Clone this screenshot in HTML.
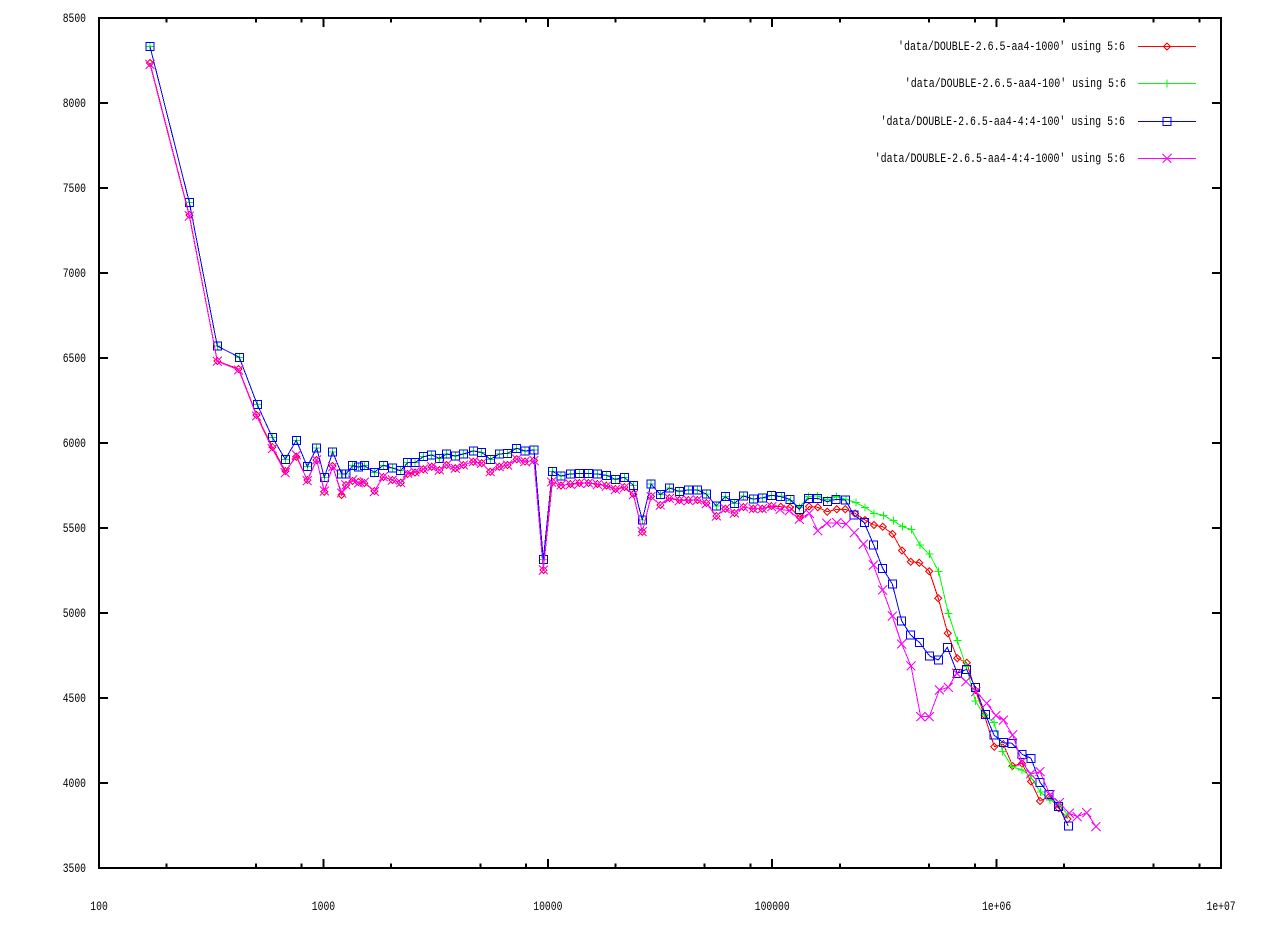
<!DOCTYPE html>
<html>
<head>
<meta charset="utf-8">
<style>
html,body{margin:0;padding:0;background:#fff;}
svg{display:block;}
text{font-family:"Liberation Mono",monospace;font-size:13px;fill:#000;}
</style>
</head>
<body>
<svg width="1272" height="944" viewBox="0 0 1272 944" xmlns="http://www.w3.org/2000/svg">
<defs>
<marker id="mD" markerUnits="userSpaceOnUse" markerWidth="12" markerHeight="12" refX="6" refY="6" viewBox="0 0 12 12" overflow="visible"><path d="M6,2.5 L9.5,6 L6,9.5 L2.5,6 Z" fill="none" stroke="#ff0000" stroke-width="1" shape-rendering="crispEdges"/></marker>
<marker id="mP" markerUnits="userSpaceOnUse" markerWidth="12" markerHeight="12" refX="6" refY="6" viewBox="0 0 12 12" overflow="visible"><path d="M2,6 H10 M6,2 V10" fill="none" stroke="#00ff00" stroke-width="1" shape-rendering="crispEdges"/></marker>
<marker id="mS" markerUnits="userSpaceOnUse" markerWidth="12" markerHeight="12" refX="6" refY="6" viewBox="0 0 12 12" overflow="visible"><path d="M2,2 H10 V10 H2 Z" fill="none" stroke="#0000ff" stroke-width="1" shape-rendering="crispEdges"/></marker>
<marker id="mX" markerUnits="userSpaceOnUse" markerWidth="12" markerHeight="12" refX="6" refY="6" viewBox="0 0 12 12" overflow="visible"><path d="M1.5,1.5 L10.5,10.5 M10.5,1.5 L1.5,10.5" fill="none" stroke="#ff00ff" stroke-width="1" shape-rendering="crispEdges"/></marker>
</defs>

<rect x="99" y="18" width="1122" height="850" fill="none" stroke="#000" stroke-width="2" shape-rendering="crispEdges"/>

<g stroke="#000" stroke-width="2" shape-rendering="crispEdges">
<path d="M99,18H108M99,103H108M99,188H108M99,273H108M99,358H108M99,443H108M99,528H108M99,613H108M99,698H108M99,783H108M99,868H108"/>
<path d="M1221,18H1212M1221,103H1212M1221,188H1212M1221,273H1212M1221,358H1212M1221,443H1212M1221,528H1212M1221,613H1212M1221,698H1212M1221,783H1212M1221,868H1212"/>
<path d="M99,868V859M323.4,868V859M547.8,868V859M772.2,868V859M996.6,868V859M1221,868V859"/>
<path d="M99,18V27M323.4,18V27M547.8,18V27M772.2,18V27M996.6,18V27M1221,18V27"/>
<path d="M166.6,868V863.5M255.9,868V863.5M301.7,868V863.5M391,868V863.5M480.3,868V863.5M526.1,868V863.5M615.4,868V863.5M704.7,868V863.5M750.5,868V863.5M839.8,868V863.5M929.1,868V863.5M974.9,868V863.5M1064.2,868V863.5M1153.5,868V863.5M1199.3,868V863.5"/>
<path d="M166.6,18V22.5M255.9,18V22.5M301.7,18V22.5M391,18V22.5M480.3,18V22.5M526.1,18V22.5M615.4,18V22.5M704.7,18V22.5M750.5,18V22.5M839.8,18V22.5M929.1,18V22.5M974.9,18V22.5M1064.2,18V22.5M1153.5,18V22.5M1199.3,18V22.5"/>
</g>

<g>
<text x="62.7" y="22" textLength="23.3" lengthAdjust="spacingAndGlyphs">8500</text>
<text x="62.7" y="107" textLength="23.3" lengthAdjust="spacingAndGlyphs">8000</text>
<text x="62.7" y="192" textLength="23.3" lengthAdjust="spacingAndGlyphs">7500</text>
<text x="62.7" y="277" textLength="23.3" lengthAdjust="spacingAndGlyphs">7000</text>
<text x="62.7" y="362" textLength="23.3" lengthAdjust="spacingAndGlyphs">6500</text>
<text x="62.7" y="447" textLength="23.3" lengthAdjust="spacingAndGlyphs">6000</text>
<text x="62.7" y="532" textLength="23.3" lengthAdjust="spacingAndGlyphs">5500</text>
<text x="62.7" y="617" textLength="23.3" lengthAdjust="spacingAndGlyphs">5000</text>
<text x="62.7" y="702" textLength="23.3" lengthAdjust="spacingAndGlyphs">4500</text>
<text x="62.7" y="787" textLength="23.3" lengthAdjust="spacingAndGlyphs">4000</text>
<text x="62.7" y="872" textLength="23.3" lengthAdjust="spacingAndGlyphs">3500</text>
</g>

<g>
<text x="90.3" y="910" textLength="17.5" lengthAdjust="spacingAndGlyphs">100</text>
<text x="311.8" y="910" textLength="23.3" lengthAdjust="spacingAndGlyphs">1000</text>
<text x="533.3" y="910" textLength="29.1" lengthAdjust="spacingAndGlyphs">10000</text>
<text x="754.8" y="910" textLength="34.9" lengthAdjust="spacingAndGlyphs">100000</text>
<text x="982.1" y="910" textLength="29.1" lengthAdjust="spacingAndGlyphs">1e+06</text>
<text x="1206.5" y="910" textLength="29.1" lengthAdjust="spacingAndGlyphs">1e+07</text>
</g>

<g fill="none" stroke-width="1" shape-rendering="crispEdges">
<polyline stroke="#ff0000" marker-start="url(#mD)" marker-mid="url(#mD)" marker-end="url(#mD)" points="150,63 189.3,215 217.3,361 238.7,369 256.7,415 272.3,447 285.3,471 296.3,456.7 307.3,480 316.7,460 324.3,491.7 332.7,466 341.7,495 346,485 352.7,481 358.5,482 364.3,483 374.3,491 383.3,477 392.3,480 400.7,482.7 407.7,474 415,472.7 423.3,469.3 431.7,466.7 439.3,470 446.7,465 455.3,468.3 463.3,465 473.3,461.7 481.7,463.3 490.3,471.7 499.3,466.7 507.7,465 516.7,459.3 525,461.7 534,460.7 543.3,570 552.3,482 561,485.5 570.3,484 579.3,483 588.3,483 597.3,484 606.3,485.5 615.3,489 624.3,487 633.3,494 642.3,531.7 651,496.7 660.3,505 669.3,498 679.3,500 688.3,500 697.3,500 706.3,503 716.3,516 725.3,508.7 734.3,513 743.3,507 753.3,508.7 762.3,508.7 771.3,506 780.7,506.7 790,507.3 800,517.3 809,506.7 817.7,507.3 827.3,511.7 836.7,509.3 845.3,509.3 855,513.3 865,520 874,525 882.7,526.7 892.7,534 902,550.7 910.7,561.7 919.3,562.7 929.3,571.3 938.3,598.3 947.7,633.3 957.3,658.3 966.7,662.7 975.3,690 984.3,715 994.3,746.7 1003.3,744 1012.7,766 1022,763.3 1031,781.7 1040,801 1049.3,796.7 1058.7,808.3 1067.7,819"/>

<polyline stroke="#00ff00" marker-start="url(#mP)" marker-mid="url(#mP)" marker-end="url(#mP)" points="150,46.5 189.3,202.3 217.3,346 239.3,357.3 257.3,404.7 272.3,437.3 285.3,459.3 296.3,440.3 307.3,466.7 316.7,448 324.3,477.3 332.7,452 341.7,474 346,474 352.7,465.7 358.5,467 364.3,465.7 374.3,472.3 383.3,465.3 392.3,468 400.7,470.7 407.7,462.7 415,462.7 423.3,456.7 431.7,455 439.3,458.3 446.7,454 455.3,456 463.3,454 473.3,451 481.7,452.3 490.3,459.3 499.3,454 507.7,453.3 516.7,448.3 525,451 534,450 543.3,559.3 552.3,471.3 561,476 570.3,474 579.3,473.3 588.3,473.3 597.3,474 606.3,475.3 615.3,479.3 624.3,477.3 633.3,485.3 642.3,520 651,484 660.3,494.7 669.3,488 679.3,491.3 688.3,490 697.3,490 706.3,494 716.3,506 725.3,496.7 734.3,503.3 743.3,496 753.3,499 762.3,498 771.3,495.3 781.7,496 790.7,500.7 799.3,507.3 808.3,496.7 817.3,496 827.3,500 836.7,496.7 846,499.3 856,502.7 865,507.3 874,513.3 883.3,515.3 893.3,520.7 902.3,526.7 911.3,529.3 920,545 929.3,554 938.7,571.7 948.3,613.3 957.3,640.7 966.3,666.7 975.3,701 984.3,715 994,722.7 1002.7,751.7 1012,766.7 1022,770 1030.3,776 1040.3,792 1050,800 1059.3,804 1067.7,815"/>

<polyline stroke="#0000ff" marker-start="url(#mS)" marker-mid="url(#mS)" marker-end="url(#mS)" points="150,46.5 189.3,202.3 217.3,346 239.3,357.3 257.3,404.7 272.3,437.3 285.3,459.3 296.3,440.3 307.3,466.7 316.7,448 324.3,477.3 332.7,452 341.7,474 346,474 352.7,465.7 358.5,467 364.3,465.7 374.3,472.3 383.3,465.3 392.3,468 400.7,470.7 407.7,462.7 415,462.7 423.3,456.7 431.7,455 439.3,458.3 446.7,454 455.3,456 463.3,454 473.3,451 481.7,452.3 490.3,459.3 499.3,454 507.7,453.3 516.7,448.3 525,451 534,450 543.3,559.3 552.3,471.3 561,476 570.3,474 579.3,473.3 588.3,473.3 597.3,474 606.3,475.3 615.3,479.3 624.3,477.3 633.3,485.3 642.3,520 651,484 660.3,494.7 669.3,488 679.3,491.3 688.3,490 697.3,490 706.3,494 716.3,506 725.3,496.7 734.3,503.3 743.3,496 753.3,499 762.3,498 771.3,495.3 780.7,496.7 790,499.3 799.3,509.3 808.3,498.3 817.3,498.3 827.3,501.7 836,499.3 845.3,500 854,515 864.3,522.7 873.7,545 882.7,568.3 892.3,584 901.7,621 910.7,635 919.3,642.3 929.7,656 938.3,660 947.3,647.3 957.3,673.3 966.7,669.3 975.3,687.3 985.3,714.3 994,735 1003.3,742.7 1012,743.3 1022,754.3 1031,758.3 1040,782.3 1049,794.3 1058.7,806.7 1068.3,826"/>

<polyline stroke="#ff00ff" marker-start="url(#mX)" marker-mid="url(#mX)" marker-end="url(#mX)" points="150,64.3 189.3,216 217.3,361.3 238.7,370 256.7,416 272.3,448.7 285.3,472.7 296.3,455 307.3,480.7 316.7,460 324.3,491 332.7,466.7 341.7,493 346,485 352.7,480 358.5,483 364.3,482 374.3,491.5 383.3,476.7 392.3,480 400.7,482.7 407.7,473 415,472 423.3,469.3 431.7,466.7 439.3,470 446.7,465 455.3,468.3 463.3,465 473.3,461.7 481.7,463.3 490.3,471.7 499.3,466.7 507.7,465 516.7,459.3 525,461.7 534,460.7 543.3,570 551.7,482 561,485 570.3,484.5 579.3,483.5 588.3,483 597.3,484.5 606.3,486 615.3,489.5 624.3,487.5 633.3,494.5 642.3,531.7 651,496.7 660.3,505 669.3,498.5 679.3,500.5 688.3,500.5 697.3,500 706.3,503.5 716.3,516 725.3,508.7 734.3,513 743.3,507 753.3,508.7 762.3,508.7 771.7,506.7 780,509.3 789.3,510.7 799.3,519.3 809.3,513.3 817.7,530.7 826.7,523.3 836.7,522.7 846,524 854.3,532.7 863.3,544 873.3,565 882.7,590 892.3,616 901.7,644 911,666 920.7,716.7 929.3,716.7 939.3,690 948.3,687.3 956.7,673.3 966,681.7 976,691.7 986.7,703.3 996,715.7 1003.3,720 1012.7,735 1021.7,761.7 1030.7,774 1040,771.7 1050,795 1059.3,802.7 1069.3,813.3 1077.3,816.7 1086.7,812.7 1096,826.7"/>
</g>

<g>
<text x="898" y="50" textLength="227" lengthAdjust="spacingAndGlyphs">'data/DOUBLE-2.6.5-aa4-1000' using 5:6</text>
<text x="904.8" y="87" textLength="221.2" lengthAdjust="spacingAndGlyphs">'data/DOUBLE-2.6.5-aa4-100' using 5:6</text>
<text x="880.6" y="125" textLength="244.4" lengthAdjust="spacingAndGlyphs">'data/DOUBLE-2.6.5-aa4-4:4-100' using 5:6</text>
<text x="874.7" y="162" textLength="250.3" lengthAdjust="spacingAndGlyphs">'data/DOUBLE-2.6.5-aa4-4:4-1000' using 5:6</text>
</g>
<g fill="none" stroke-width="1" shape-rendering="crispEdges">
<polyline stroke="#ff0000" points="1138,46.5 1167,46.5 1196,46.5" marker-mid="url(#mD)"/>
<polyline stroke="#00ff00" points="1138,83.5 1167,83.5 1196,83.5" marker-mid="url(#mP)"/>
<polyline stroke="#0000ff" points="1138,121.5 1167,121.5 1196,121.5" marker-mid="url(#mS)"/>
<polyline stroke="#ff00ff" points="1138,158.5 1167,158.5 1196,158.5" marker-mid="url(#mX)"/>
</g>
</svg>
</body>
</html>
